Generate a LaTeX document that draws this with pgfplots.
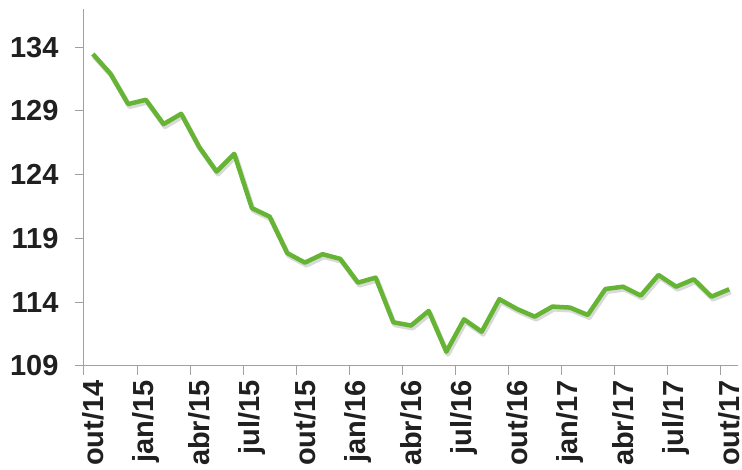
\documentclass[border=0pt]{standalone}
\usepackage{pgfplots}
\pgfplotsset{compat=1.18}
\usepackage{fontspec}
\setmainfont{Liberation Sans}
\definecolor{lineGreen}{RGB}{102,180,52}
\definecolor{axisGray}{RGB}{160,160,160}
\definecolor{labelGray}{RGB}{32,32,32}

\begin{document}
\begin{tikzpicture}
  \begin{axis}[
    scale only axis,
    width=654pt, height=357pt,
    xmin=-0.5, xmax=36.5,
    ymin=109, ymax=137,
    axis lines*=left,
    axis line style={axisGray, line width=1pt, -},
    tick style={axisGray, line width=1pt},
    tick align=outside,
    major tick length=9pt,
    ytick={109,114,...,134},
    xtick={-0.5,2.5,...,35.5},
    xticklabels={},
    extra x ticks={0,3,...,36},
    extra x tick labels={out/14,jan/15,abr/15,jul/15,out/15,jan/16,abr/16,jul/16,out/16,jan/17,abr/17,jul/17,out/17},
    extra x tick style={major tick length=0pt,
      tick label style={rotate=90, anchor=east, xshift=-11pt}},
    /pgf/number format/assume math mode=true,
    ticklabel style={font=\fontsize{29}{31}\selectfont\bfseries, text=labelGray},
    yticklabel style={xshift=-13pt},
    clip=false,
  ]
    % shadow
    \addplot[black, opacity=0.15, line width=5pt, line join=round,
      shift={(1.5pt,-2.5pt)}] table {
      x y
      0 133.47
      1 131.92
      2 129.54
      3 129.88
      4 127.97
      5 128.78
      6 126.21
      7 124.25
      8 125.64
      9 121.38
      10 120.72
      11 117.85
      12 117.11
      13 117.77
      14 117.40
      15 115.54
      16 115.93
      17 112.43
      18 112.17
      19 113.32
      20 110.12
      21 112.66
      22 111.69
      23 114.24
      24 113.47
      25 112.87
      26 113.66
      27 113.58
      28 113.00
      29 115.04
      30 115.22
      31 114.52
      32 116.14
      33 115.22
      34 115.80
      35 114.44
      36 115.02
    };
    % index
    \addplot[lineGreen, line width=4.5pt, line join=round] table {
      x y
      0 133.47
      1 131.92
      2 129.54
      3 129.88
      4 127.97
      5 128.78
      6 126.21
      7 124.25
      8 125.64
      9 121.38
      10 120.72
      11 117.85
      12 117.11
      13 117.77
      14 117.40
      15 115.54
      16 115.93
      17 112.43
      18 112.17
      19 113.32
      20 110.12
      21 112.66
      22 111.69
      23 114.24
      24 113.47
      25 112.87
      26 113.66
      27 113.58
      28 113.00
      29 115.04
      30 115.22
      31 114.52
      32 116.14
      33 115.22
      34 115.80
      35 114.44
      36 115.02
    };
  \end{axis}
  \pgfresetboundingbox
  \path ([shift={(-84pt,366pt)}]current axis.south west)
    rectangle ([shift={(658pt,-104pt)}]current axis.south west);
\end{tikzpicture}
\end{document}
